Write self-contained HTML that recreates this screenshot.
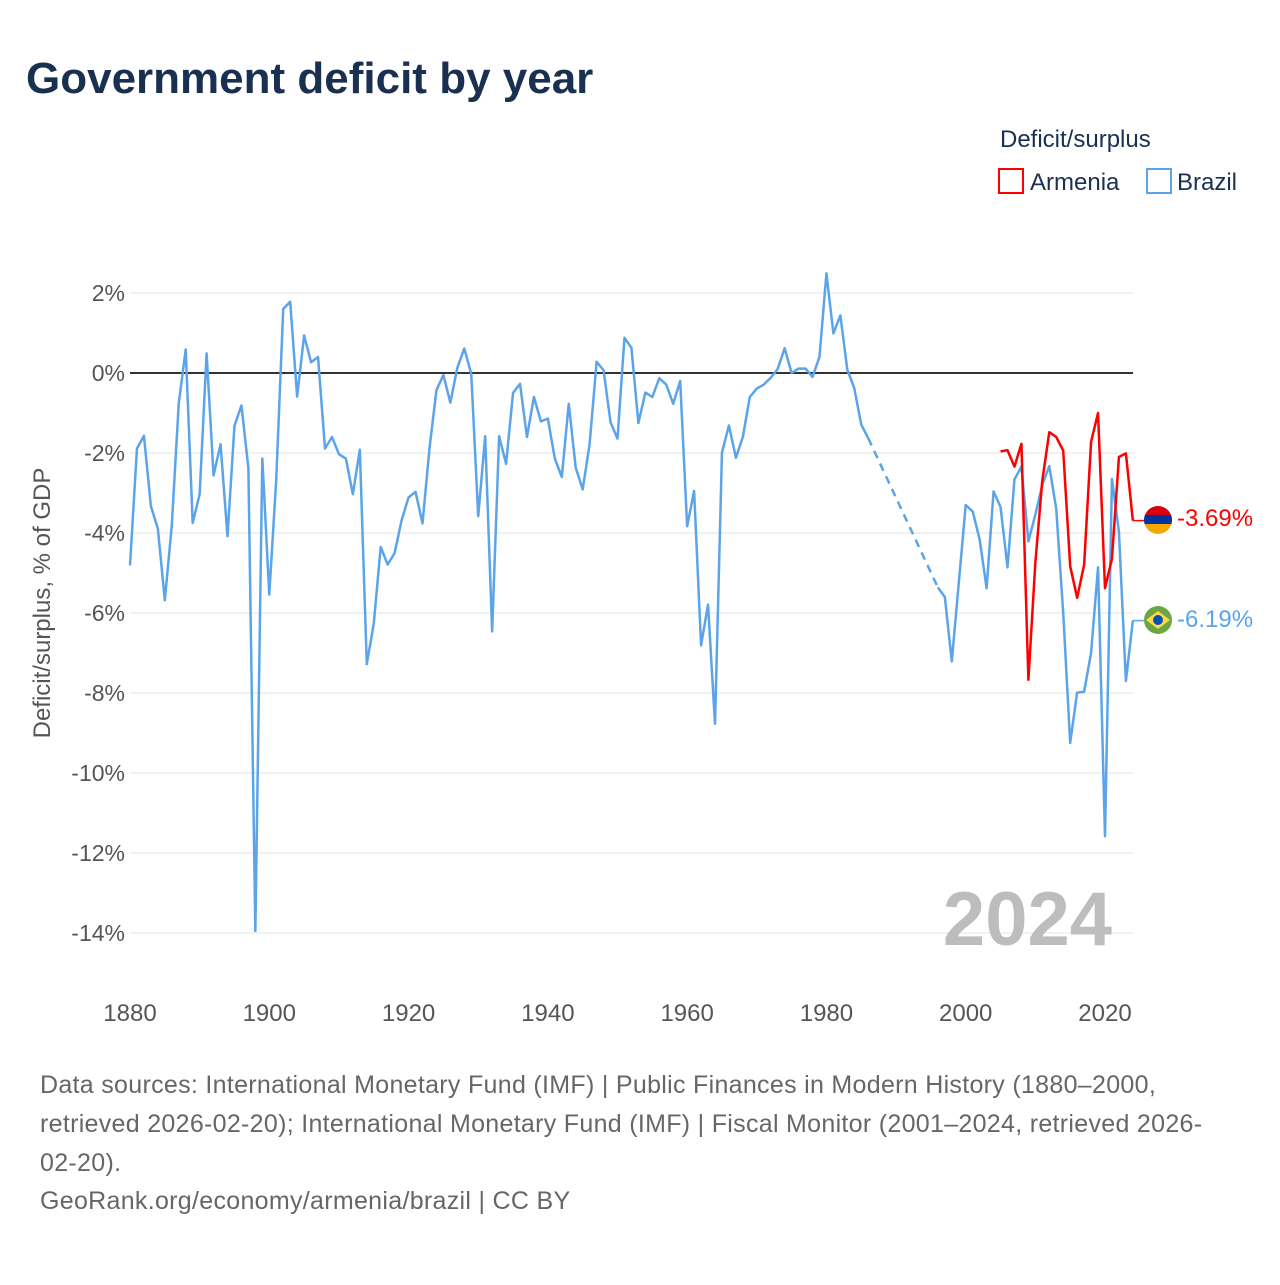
<!DOCTYPE html>
<html><head><meta charset="utf-8"><style>
body{margin:0;background:#fff;font-family:"Liberation Sans",sans-serif;}
svg text{font-family:"Liberation Sans",sans-serif;}
</style></head><body>
<svg id="chart" width="1280" height="1280" viewBox="0 0 1280 1280">
<text x="26" y="93" font-size="44" font-weight="bold" fill="#1a3050">Government deficit by year</text>
<text x="1000" y="147" font-size="24" fill="#1a3050">Deficit/surplus</text>
<g><rect x="999" y="169" width="24" height="24" fill="none" stroke="#ff0000" stroke-width="2"/><text x="1030" y="190" font-size="24" fill="#1a3050">Armenia</text></g>
<g><rect x="1147" y="169" width="24" height="24" fill="none" stroke="#5ba4ea" stroke-width="2"/><text x="1177" y="190" font-size="24" fill="#1a3050">Brazil</text></g>
<g id="grid"></g><g id="yticks"></g><g id="xticks"></g>
<text transform="translate(50,603) rotate(-90)" text-anchor="middle" font-size="24" fill="#555">Deficit/surplus, % of GDP</text>
<text x="1112" y="945" text-anchor="end" font-size="76" font-weight="bold" fill="#bdbdbd">2024</text>
<g id="series"></g>
<g><clipPath id="ca"><circle cx="1158" cy="520" r="14"/></clipPath><g clip-path="url(#ca)"><rect x="1144" y="506" width="28" height="10" fill="#d90012"/><rect x="1144" y="515" width="28" height="10" fill="#0033a0"/><rect x="1144" y="524" width="28" height="10" fill="#f2a800"/></g></g>
<g><circle cx="1158" cy="620" r="14" fill="#6da544"/><polygon points="1146,620 1158,611 1170,620 1158,629" fill="#ffda44"/><circle cx="1158" cy="620" r="5" fill="#0052b4"/></g>
<text x="1177" y="526" font-size="24" fill="#ff0000">-3.69%</text>
<text x="1177" y="627" font-size="24" fill="#5ba4ea">-6.19%</text>
<g font-size="25" fill="#666" letter-spacing="0.3">
<text x="40" y="1093">Data sources: International Monetary Fund (IMF) | Public Finances in Modern History (1880–2000,</text>
<text x="40" y="1132">retrieved 2026-02-20); International Monetary Fund (IMF) | Fiscal Monitor (2001–2024, retrieved 2026-</text>
<text x="40" y="1171">02-20).</text>
<text x="40" y="1209">GeoRank.org/economy/armenia/brazil | CC BY</text>
</g>
</svg>
<script>
const yTicks=[2,0,-2,-4,-6,-8,-10,-12,-14];
const xTicks=[1880,1900,1920,1940,1960,1980,2000,2020];
const brazilYears=[];for(let y=1880;y<=2024;y++)brazilYears.push(y);
const brazilValues=[-4.81,-1.89,-1.57,-3.33,-3.89,-5.68,-3.81,-0.76,0.59,-3.75,-3.03,0.49,-2.56,-1.78,-4.08,-1.32,-0.81,-2.38,-13.95,-2.14,-5.54,-2.65,1.6,1.78,-0.59,0.94,0.27,0.4,-1.89,-1.6,-2.03,-2.14,-3.03,-1.92,-7.28,-6.27,-4.35,-4.79,-4.5,-3.68,-3.11,-2.97,-3.76,-1.89,-0.43,-0.05,-0.74,0.13,0.61,-0.02,-3.58,-1.58,-6.46,-1.58,-2.27,-0.5,-0.27,-1.6,-0.6,-1.21,-1.14,-2.14,-2.6,-0.77,-2.37,-2.91,-1.77,0.28,0.07,-1.23,-1.64,0.88,0.63,-1.25,-0.49,-0.6,-0.13,-0.29,-0.77,-0.2,-3.83,-2.95,-6.81,-5.79,-8.77,-1.99,-1.31,-2.12,-1.6,-0.6,-0.39,-0.29,-0.12,0.1,0.62,0,0.11,0.11,-0.1,0.4,2.49,0.99,1.44,0.08,-0.38,-1.29,-1.63,null,null,null,null,null,null,null,null,null,-5.36,-5.6,-7.21,-5.26,-3.3,-3.46,-4.16,-5.38,-2.96,-3.35,-4.86,-2.66,-2.34,-4.21,-3.54,-2.79,-2.33,-3.4,-6.0,-9.25,-7.99,-7.97,-7.0,-4.86,-11.58,-2.65,-3.97,-7.7,-6.19];
const armeniaYears=[2005,2006,2007,2008,2009,2010,2011,2012,2013,2014,2015,2016,2017,2018,2019,2020,2021,2022,2023,2024];
const armeniaValues=[-1.96,-1.93,-2.34,-1.77,-7.67,-4.74,-2.68,-1.48,-1.6,-1.94,-4.83,-5.62,-4.8,-1.72,-1.0,-5.38,-4.64,-2.1,-2.01,-3.69];
const NS='http://www.w3.org/2000/svg';
const X0=130,X1=1133,Y1880=1880,PX=975/140;
function xs(y){return X0+(y-Y1880)*PX;}
function ys(v){return 373-v*40;}
function mk(t,a,p){const e=document.createElementNS(NS,t);for(const k in a)e.setAttribute(k,a[k]);p.appendChild(e);return e;}
const grid=document.getElementById('grid'),yt=document.getElementById('yticks'),xt=document.getElementById('xticks'),ser=document.getElementById('series');
yTicks.forEach(v=>{
 const l=mk('line',{x1:X0,x2:X1,y1:ys(v),y2:ys(v),stroke:v===0?'#333':'#e6e6e6','stroke-width':v===0?2:1},grid);
 
 
 const t=mk('text',{x:125,y:ys(v)+8,'text-anchor':'end','font-size':23,fill:'#555'},yt);
 t.textContent=v+'%';
 
 
});
xTicks.forEach(y=>{
 const t=mk('text',{x:xs(y),y:1021,'text-anchor':'middle','font-size':24,fill:'#555'},xt);
 t.textContent=y;
 
 
});
function drawSeries(years,vals,color,name){
 let seg=[],lastPt=null,gapStart=null;
 const flush=()=>{if(seg.length>1){const p=mk('polyline',{points:seg.join(' '),fill:'none',stroke:color,'stroke-width':2.5,'stroke-linejoin':'round'},ser);
  
  }seg=[];};
 years.forEach((y,i)=>{
  const v=vals[i];
  if(v===null){if(seg.length){gapStart=lastPt;flush();}return;}
  const pt=[xs(y),ys(v)];
  if(gapStart){const d=mk('line',{x1:gapStart[0],y1:gapStart[1],x2:pt[0],y2:pt[1],stroke:color,'stroke-width':2.5,'stroke-dasharray':'8,6'},ser);
   
   gapStart=null;}
  seg.push(pt.join(','));lastPt=pt;
 });
 flush();
 const l=mk('line',{x1:xs(2024),y1:ys(vals[vals.length-1]),x2:1144,y2:ys(vals[vals.length-1]),stroke:color,'stroke-width':1.5},ser);
 
 
}
drawSeries(brazilYears,brazilValues,'#5ba4ea','brazil');
drawSeries(armeniaYears,armeniaValues,'#ff0000','armenia');
</script>
</body></html>
